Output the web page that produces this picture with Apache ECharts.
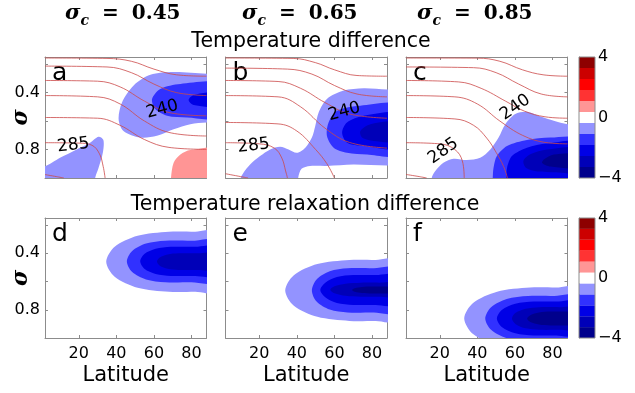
<!DOCTYPE html>
<html>
<head>
<meta charset="utf-8">
<script src="https://cdn.jsdelivr.net/npm/echarts@6/dist/echarts.min.js"></script>
<style>
  html, body { margin: 0; padding: 0; background: #ffffff; }
  #chart { width: 635px; height: 393px; }
</style>
</head>
<body>
<div id="chart"></div>
<script>
// Axis ticks
const latTicks = [20, 40, 60, 80];
const sigmaTicks = [0.2, 0.4, 0.6, 0.8];
const sigmaLabels = [0.4, 0.8];
const colorbarTicks = [-4, 0, 4];

// Contour levels (11 equal bands from -4 to 4) and their fill colours
const levels = [-4, -3.2727, -2.5455, -1.8182, -1.0909, -0.3636, 0.3636, 1.0909, 1.8182, 2.5455, 3.2727, 4];
const bandColors = ['#00008c', '#0000b8', '#0000e6', '#3131ff', '#9393ff', '#ffffff',
                    '#ff9595', '#ff3333', '#ff0000', '#cc0000', '#8e0000'];

const sigmaC = [0.45, 0.65, 0.85];
const panelLetters = ['a', 'b', 'c', 'd', 'e', 'f'];

// Climatological isotherms (K) drawn over the top row, as [latitude, sigma] paths
const isotherms = [210, 225, 240, 255, 270, 285, 300];
const isothermPathsA = [
  [[2, 0.157], [35, 0.16], [48, 0.18], [60, 0.235], [72, 0.275], [88, 0.285]],
  [[2, 0.214], [35, 0.22], [48, 0.26], [60, 0.34], [72, 0.4], [88, 0.421]],
  [[2, 0.315], [30, 0.32], [42, 0.36], [55, 0.46], [68, 0.54], [88, 0.563]],
  [[2, 0.421], [30, 0.43], [42, 0.48], [55, 0.6], [68, 0.68], [88, 0.705]],
  [[2, 0.575], [30, 0.58], [42, 0.63], [55, 0.73], [68, 0.785], [88, 0.799]],
  [[2, 0.752], [20, 0.755], [27, 0.77], [31, 0.83], [33, 0.92], [34, 1.0]],
  [[2, 0.976], [8, 0.99], [12, 1.0]]
];
const isothermPathsB = [
  [[2, 0.157], [38, 0.16], [50, 0.19], [60, 0.24], [72, 0.28], [88, 0.285]],
  [[2, 0.228], [35, 0.235], [48, 0.27], [60, 0.35], [72, 0.41], [88, 0.43]],
  [[2, 0.315], [30, 0.322], [42, 0.37], [55, 0.47], [68, 0.55], [88, 0.58]],
  [[2, 0.421], [30, 0.43], [42, 0.5], [55, 0.65], [68, 0.75], [88, 0.79]],
  [[2, 0.61], [30, 0.62], [40, 0.67], [50, 0.8], [56, 0.9], [60, 1.0]],
  [[2, 0.752], [20, 0.76], [28, 0.79], [32, 0.86], [34, 0.95], [35, 1.0]],
  [[2, 0.97], [10, 0.99], [14, 1.0]]
];
const isothermPathsC = [
  [[2, 0.157], [40, 0.158], [52, 0.18], [64, 0.24], [75, 0.275], [88, 0.285]],
  [[2, 0.22], [38, 0.225], [50, 0.26], [62, 0.34], [74, 0.41], [88, 0.43]],
  [[2, 0.315], [30, 0.325], [42, 0.37], [55, 0.46], [65, 0.53], [76, 0.57], [88, 0.58]],
  [[2, 0.421], [28, 0.43], [40, 0.48], [52, 0.6], [64, 0.7], [76, 0.75], [88, 0.76]],
  [[2, 0.575], [28, 0.585], [38, 0.63], [45, 0.72], [50, 0.82], [54, 0.92], [56, 1.0]],
  [[2, 0.752], [20, 0.76], [28, 0.8], [32, 0.88], [33, 1.0]],
  [[2, 0.975], [9, 0.99], [13, 1.0]]
];
// Isotherm labels: [value, latitude, sigma, rotation]
const isothermLabelsA = [[240, 64.5, 0.518, 15], [285, 17.1, 0.77, 7]];
const isothermLabelsB = [[240, 65.3, 0.534, 15], [285, 16.9, 0.773, 7]];
const isothermLabelsC = [[240, 60.2, 0.504, 35], [285, 21.9, 0.81, 35]];

// Filled regions: [band index, outline as [latitude, sigma]]
const tempDiffA = [
  [4, [[95, 0.268], [88, 0.268], [70.5, 0.256], [58.1, 0.275], [49.2, 0.35], [43, 0.469], [41.2, 0.587], [43.8, 0.669], [52.7, 0.716], [61.6, 0.704], [70.5, 0.658], [79.4, 0.622], [88, 0.61], [95, 0.61]]],
  [3, [[95, 0.339], [74.1, 0.339], [63.4, 0.374], [59, 0.445], [60.7, 0.516], [67, 0.563], [77.7, 0.575], [95, 0.575]]],
  [2, [[95, 0.403], [81.2, 0.417], [78.5, 0.452], [81.2, 0.488], [95, 0.495]]],
  [4, [[-5, 0.917], [2, 0.917], [10, 0.858], [18.9, 0.799], [26, 0.752], [30.5, 0.71], [33.1, 0.733], [32.8, 0.823], [30.5, 0.929], [28.7, 1.0], [28.5, 1.1], [-5, 1.1]]],
  [6, [[95, 0.799], [79.4, 0.804], [74.1, 0.835], [70.5, 0.893], [69.1, 1.0], [69, 1.1], [95, 1.1]]]
];
const tempDiffB = [
  [4, [[95, 0.379], [88, 0.379], [75.6, 0.369], [64.9, 0.386], [56, 0.445], [51.6, 0.539], [49.8, 0.634], [48, 0.716], [44.5, 0.787], [40, 0.823], [35.6, 0.799], [31.1, 0.78], [25.8, 0.799], [20.4, 0.846], [15.1, 0.905], [11.5, 0.964], [10.1, 1.0], [10, 1.1], [40.5, 1.1], [40.7, 1.0], [42.5, 0.935], [47, 0.915], [56, 0.915], [70, 0.905], [88, 0.912], [95, 0.912]]],
  [3, [[95, 0.492], [73.8, 0.492], [61.4, 0.527], [56.9, 0.61], [56, 0.704], [59.6, 0.787], [66.7, 0.823], [77.4, 0.835], [95, 0.835]]],
  [2, [[95, 0.551], [75.6, 0.563], [66.7, 0.61], [64.1, 0.681], [66.7, 0.752], [75.6, 0.775], [95, 0.787]]],
  [1, [[95, 0.61], [79.2, 0.622], [73.8, 0.669], [74.7, 0.716], [80.9, 0.74], [95, 0.74]]]
];
const tempDiffC = [
  [4, [[95, 0.622], [88, 0.622], [80.7, 0.598], [73.6, 0.568], [66.4, 0.535], [60.2, 0.551], [54.9, 0.622], [51.3, 0.716], [46.9, 0.799], [41.5, 0.858], [34.4, 0.874], [27.3, 0.865], [21.9, 0.893], [17.5, 0.952], [15.7, 1.0], [15.5, 1.1], [95, 1.1]]],
  [3, [[95, 0.733], [78.9, 0.716], [66.4, 0.733], [55.8, 0.775], [50.4, 0.846], [48.6, 0.929], [48.2, 1.0], [48, 1.1], [95, 1.1]]],
  [2, [[95, 0.757], [77.1, 0.757], [66.4, 0.787], [58.4, 0.846], [55.8, 0.929], [55.4, 1.0], [55.3, 1.1], [95, 1.1]]],
  [1, [[95, 0.794], [77.1, 0.799], [68.2, 0.834], [64.5, 0.88], [66, 0.93], [72, 0.955], [82, 0.96], [95, 0.96]]],
  [0, [[95, 0.835], [80.7, 0.835], [75.4, 0.87], [74.5, 0.895], [78.9, 0.92], [95, 0.925]]]
];
const relaxDiffD = [
  [4, [[95, 0.247], [82, 0.247], [68, 0.247], [51.3, 0.276], [39.1, 0.354], [34.6, 0.46], [39.1, 0.566], [51.3, 0.644], [68, 0.673], [82, 0.673], [95, 0.673]]],
  [3, [[95, 0.311], [80, 0.311], [66, 0.311], [55.8, 0.331], [48.3, 0.385], [45.6, 0.458], [48.3, 0.531], [55.8, 0.585], [66, 0.605], [80, 0.605], [95, 0.605]]],
  [2, [[95, 0.354], [82, 0.354], [69, 0.354], [60.9, 0.368], [54.9, 0.405], [52.7, 0.457], [54.9, 0.509], [60.9, 0.546], [69, 0.56], [82, 0.56], [95, 0.56]]],
  [1, [[95, 0.4], [84, 0.4], [73, 0.4], [67.3, 0.408], [63.1, 0.43], [61.6, 0.459], [63.1, 0.488], [67.3, 0.51], [73, 0.518], [84, 0.518], [95, 0.518]]]
];
const relaxDiffE = [
  [4, [[95, 0.447], [82, 0.447], [68, 0.447], [50.9, 0.476], [38.4, 0.555], [33.8, 0.663], [38.4, 0.771], [50.9, 0.85], [68, 0.879], [82, 0.879], [95, 0.879]]],
  [3, [[95, 0.506], [81, 0.506], [67, 0.506], [57.5, 0.527], [50.5, 0.585], [48, 0.663], [50.5, 0.742], [57.5, 0.799], [67, 0.82], [81, 0.82], [95, 0.82]]],
  [2, [[95, 0.554], [82, 0.554], [70, 0.554], [61.3, 0.568], [55.3, 0.607], [52.5, 0.66], [55.3, 0.713], [61.3, 0.752], [70, 0.766], [82, 0.766], [95, 0.766]]],
  [1, [[95, 0.608], [84, 0.608], [74, 0.608], [65.9, 0.615], [60, 0.633], [57.8, 0.658], [60, 0.683], [65.9, 0.701], [74, 0.708], [84, 0.708], [95, 0.708]]],
  [0, [[95, 0.636], [88, 0.636], [80, 0.636], [74.7, 0.639], [70.8, 0.648], [69.4, 0.66], [70.8, 0.672], [74.7, 0.681], [80, 0.684], [88, 0.684], [95, 0.684]]]
];
const relaxDiffF = [
  [4, [[95, 0.643], [82, 0.643], [68, 0.643], [50.5, 0.672], [37.7, 0.752], [33, 0.862], [37.7, 0.972], [50.5, 1.052], [68, 1.081], [95, 1.081]]],
  [3, [[95, 0.702], [81, 0.702], [67, 0.702], [55.6, 0.723], [47.3, 0.782], [44.2, 0.862], [47.3, 0.942], [55.6, 1.001], [67, 1.022], [95, 1.022]]],
  [2, [[95, 0.742], [82, 0.742], [70, 0.742], [60.2, 0.758], [53, 0.802], [50.4, 0.862], [53, 0.922], [60.2, 0.966], [70, 0.982], [82, 0.982], [95, 0.982]]],
  [1, [[95, 0.782], [84, 0.782], [73, 0.782], [65.7, 0.793], [60.4, 0.822], [58.4, 0.862], [60.4, 0.902], [65.7, 0.931], [73, 0.942], [84, 0.942], [95, 0.942]]],
  [0, [[95, 0.813], [87, 0.813], [79, 0.813], [72.8, 0.82], [68.2, 0.838], [66.5, 0.862], [68.2, 0.887], [72.8, 0.904], [79, 0.911], [87, 0.911], [95, 0.911]]]
];

const panelRegions = [tempDiffA, tempDiffB, tempDiffC, relaxDiffD, relaxDiffE, relaxDiffF];
const panelIsotherms = [isothermPathsA, isothermPathsB, isothermPathsC, [], [], []];
const panelIsothermLabels = [isothermLabelsA, isothermLabelsB, isothermLabelsC, [], [], []];

// ---- layout ----
const colLeft = [45, 225.5, 406];
const panelWidth = 161.5;
const rowTop = [57, 218];
const rowHeight = [121, 120];
const frameColor = '#8c8c8c';
const sans = 'DejaVu Sans';

const grids = [], xAxes = [], yAxes = [], series = [], graphics = [];

function frameAxis() {
  return {
    axisLine: { show: true, lineStyle: { color: frameColor, width: 1 } },
    splitLine: { show: false },
    axisTick: { show: true, inside: true, length: 3, lineStyle: { color: frameColor } }
  };
}

for (let i = 0; i < 6; i++) {
  const row = i < 3 ? 0 : 1;
  const col = i % 3;
  grids.push({
    left: colLeft[col], top: rowTop[row], width: panelWidth, height: rowHeight[row],
    containLabel: false, outerBoundsMode: 'none'
  });

  const base = frameAxis();
  xAxes.push(Object.assign({}, base, {
    gridIndex: i, type: 'value', min: 2, max: 88, position: 'bottom',
    axisTick: Object.assign({}, base.axisTick, { customValues: latTicks }),
    axisLabel: { show: row === 1, customValues: latTicks, fontSize: 16, color: '#000', fontFamily: sans, margin: 8 },
    name: row === 1 ? 'Latitude' : '', nameLocation: 'middle', nameGap: 27, nameMoveOverlap: false,
    nameTextStyle: { fontSize: 21, color: '#000', fontFamily: sans }
  }));
  xAxes.push(Object.assign({}, base, {
    gridIndex: i, type: 'value', min: 2, max: 88, position: 'top',
    axisTick: Object.assign({}, base.axisTick, { customValues: latTicks }),
    axisLabel: { show: false }
  }));
  yAxes.push(Object.assign({}, base, {
    gridIndex: i, type: 'value', min: 0.15, max: 1.0, inverse: true, position: 'left',
    axisTick: Object.assign({}, base.axisTick, { customValues: sigmaTicks }),
    axisLabel: { show: col === 0, customValues: sigmaLabels, fontSize: 16, color: '#000', fontFamily: sans, margin: 5 },
    name: col === 0 ? 'σ' : '', nameLocation: 'middle', nameGap: 13, nameRotate: 90, nameMoveOverlap: false,
    nameTextStyle: { fontSize: 22, color: '#000', fontFamily: 'DejaVu Serif', fontWeight: 'bold', fontStyle: 'italic' }
  }));
  yAxes.push(Object.assign({}, base, {
    gridIndex: i, type: 'value', min: 0.15, max: 1.0, inverse: true, position: 'right',
    axisTick: Object.assign({}, base.axisTick, { customValues: sigmaTicks }),
    axisLabel: { show: false }
  }));

  const regions = panelRegions[i];
  series.push({
    type: 'custom',
    xAxisIndex: 2 * i, yAxisIndex: 2 * i,
    clip: true, silent: true, z: 1,
    data: regions.map((r, k) => [r[1][1][0], r[1][1][1], k]),
    renderItem: function (params, api) {
      const reg = regions[api.value(2)];
      const pts = reg[1].map(p => api.coord(p));
      return {
        type: 'polygon',
        shape: { points: pts, smooth: 0.3 },
        style: { fill: bandColors[reg[0]], stroke: null }
      };
    }
  });

  panelIsotherms[i].forEach((path, k) => {
    series.push({
      type: 'line', name: String(isotherms[k]),
      xAxisIndex: 2 * i, yAxisIndex: 2 * i,
      data: path, smooth: 0.4, showSymbol: false, symbol: 'none', clip: true, silent: true, z: 3,
      lineStyle: { color: '#cc4a4a', width: 1, opacity: 0.8 }
    });
  });

  if (panelIsothermLabels[i].length) {
    series.push({
      type: 'scatter',
      xAxisIndex: 2 * i, yAxisIndex: 2 * i,
      symbolSize: 0, silent: true, z: 4,
      itemStyle: { opacity: 1 },
      data: panelIsothermLabels[i].map(l => ({
        value: [l[1], l[2], l[0]],
        label: { rotate: l[3] }
      })),
      label: {
        show: true, position: 'inside',
        formatter: p => String(p.value[2]),
        fontSize: 17, color: '#000', fontFamily: sans, textBorderWidth: 0, opacity: 1
      }
    });
  }

  graphics.push({
    type: 'text', x: colLeft[col] + 7, y: rowTop[row] + 4,
    style: { text: panelLetters[i], fontSize: 25, fontFamily: sans, fill: '#000' }
  });
}

// Colour bars
for (let r = 0; r < 2; r++) {
  const gi = 6 + r;
  grids.push({ left: 579, top: rowTop[r], width: 16, height: rowHeight[r], outerBoundsMode: 'none' });
  xAxes.push({ gridIndex: gi, type: 'value', min: 0, max: 1, show: false });
  yAxes.push({
    gridIndex: gi, type: 'value', min: -4, max: 4, interval: 4, position: 'right',
    axisLine: { show: true, lineStyle: { color: frameColor } },
    axisTick: { show: false }, splitLine: { show: false },
    axisLabel: {
      customValues: colorbarTicks, margin: 3, fontSize: 16, color: '#000', fontFamily: sans,
      formatter: v => (v < 0 ? '\u2212' + Math.abs(v) : String(v))
    }
  });
  series.push({
    type: 'custom', xAxisIndex: 2 * 6 + r, yAxisIndex: 2 * 6 + r, silent: true,
    data: bandColors.map((c, k) => [levels[k], levels[k + 1], k]),
    renderItem: function (params, api) {
      const top = api.coord([0, api.value(1)]);
      const bot = api.coord([1, api.value(0)]);
      return {
        type: 'rect',
        shape: { x: top[0], y: top[1], width: bot[0] - top[0], height: bot[1] - top[1] },
        style: { fill: bandColors[api.value(2)] }
      };
    }
  });
  // frame around the colour bar
  series.push({
    type: 'custom', xAxisIndex: 2 * 6 + r, yAxisIndex: 2 * 6 + r, silent: true, z: 5,
    data: [[0, -4]],
    renderItem: function (params, api) {
      const a = api.coord([0, 4]);
      const b = api.coord([1, -4]);
      return {
        type: 'rect',
        shape: { x: a[0], y: a[1], width: b[0] - a[0], height: b[1] - a[1] },
        style: { fill: null, stroke: frameColor, lineWidth: 1 }
      };
    }
  });
}

// Column headings and row titles
const headingLeft = [65, 242, 417];
sigmaC.forEach((v, k) => {
  graphics.push({
    type: 'text', x: headingLeft[k], y: 0,
    style: {
      text: '{s|σ}{c|c}{e|=}{n|' + v.toFixed(2) + '}',
      rich: {
        s: { fontSize: 21, fontFamily: 'DejaVu Serif', fontWeight: 'bold', fontStyle: 'italic', lineHeight: 28 },
        c: { fontSize: 14, fontFamily: 'DejaVu Serif', fontWeight: 'bold', fontStyle: 'italic', lineHeight: 12, verticalAlign: 'bottom' },
        e: { fontSize: 20, fontFamily: 'DejaVu Serif', fontWeight: 'bold', lineHeight: 28, padding: [0, 13, 0, 13] },
        n: { fontSize: 20, fontFamily: 'DejaVu Serif', fontWeight: 'bold', lineHeight: 28 }
      },
      fill: '#000'
    }
  });
});
graphics.push({
  type: 'text', x: 311, y: 31,
  style: { text: 'Temperature difference', fontSize: 20.5, fontFamily: sans, fill: '#000', align: 'center', textAlign: 'center' }
});
graphics.push({
  type: 'text', x: 305, y: 194,
  style: { text: 'Temperature relaxation difference', fontSize: 20.5, fontFamily: sans, fill: '#000', align: 'center', textAlign: 'center' }
});

const chart = echarts.init(document.getElementById('chart'), null, { renderer: 'canvas' });
chart.setOption({
  animation: false,
  backgroundColor: '#ffffff',
  textStyle: { fontFamily: sans },
  grid: grids,
  xAxis: xAxes,
  yAxis: yAxes,
  series: series,
  graphic: graphics
});
</script>
</body>
</html>
